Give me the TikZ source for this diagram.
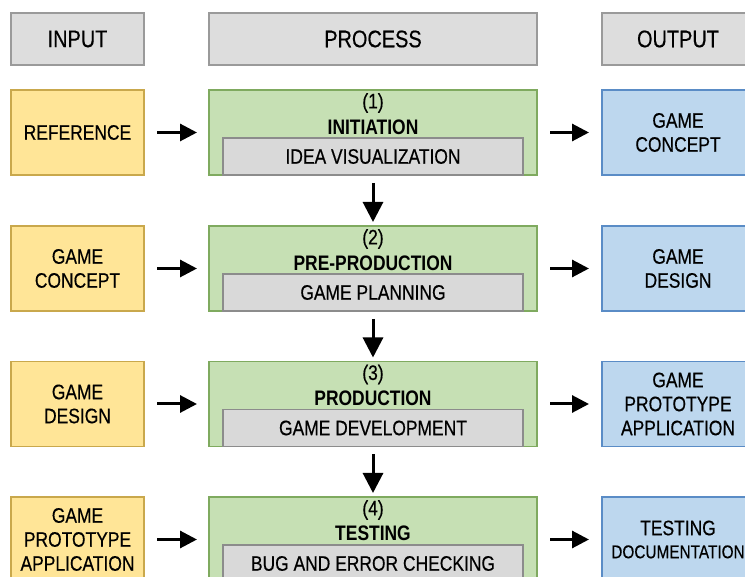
\documentclass[tikz,border=0pt]{standalone}
\usepackage{fontspec}
\setmainfont{Liberation Sans}[FakeStretch=0.83, UprightFeatures={FakeBold=0.4}]
\usetikzlibrary{arrows.meta}
\definecolor{hdrfill}{HTML}{DDDDDD}
\definecolor{hdrdraw}{HTML}{9A9A9A}
\definecolor{infill}{HTML}{FFE597}
\definecolor{indraw}{HTML}{C9A84C}
\definecolor{prfill}{HTML}{C6E0B4}
\definecolor{prdraw}{HTML}{7FAA5F}
\definecolor{subfill}{HTML}{D9D9D9}
\definecolor{subdraw}{HTML}{8C8C8C}
\definecolor{outfill}{HTML}{BDD7EE}
\definecolor{outdraw}{HTML}{5A8CC6}
\begin{document}
\begin{tikzpicture}[x=1pt,y=-1pt,
  box/.style={draw, line width=1.5pt, inner sep=0pt, outer sep=0pt, align=center,
    font=\fontsize{21}{24}\selectfont},
  hdr/.style={box, fill=hdrfill, draw=hdrdraw, minimum height=52pt,
    font=\fontsize{24}{26}\selectfont},
  inbox/.style={box, fill=infill, draw=indraw, minimum width=133pt, minimum height=85pt},
  prbox/.style={box, fill=prfill, draw=prdraw, minimum width=328pt, minimum height=85pt},
  subbox/.style={box, fill=subfill, draw=subdraw, minimum width=300pt, minimum height=37pt},
  outbox/.style={box, fill=outfill, draw=outdraw, minimum width=152pt, minimum height=85pt},
  lbl/.style={inner sep=0pt, font=\fontsize{21}{24}\selectfont},
  harr/.style={line width=3pt, -{Triangle[length=17pt,width=17pt]}},
  varr/.style={line width=3pt, -{Triangle[length=20pt,width=20pt]}}
]
\useasboundingbox (0,0) rectangle (745,577);
\clip (0,0) rectangle (745,577);
\fill[white] (0,0) rectangle (745,577);

% headers
\node[hdr, minimum width=133pt] (hin)  at (77.5,39) {INPUT};
\node[hdr, minimum width=328pt] (hpr)  at (373,39) {PROCESS};
\node[hdr, minimum width=152pt] (hout) at (678,39) {OUTPUT};

% row 1
\node[inbox]  (i1) at (77.5,132.5) {REFERENCE};
\node[prbox]  (p1) at (373,132.5) {};
\node[subbox] (s1) at (373,156.5) {IDEA VISUALIZATION};
\node[lbl]    (n1) at (373,103) {(1)};
\node[lbl]    (t1) at (373,127) {\bfseries INITIATION};
\node[outbox] (o1) at (678,132.5) {GAME\\CONCEPT};

% row 2
\node[inbox]  (i2) at (77.5,268.5) {GAME\\CONCEPT};
\node[prbox]  (p2) at (373,268.5) {};
\node[subbox] (s2) at (373,292.5) {GAME PLANNING};
\node[lbl]    (n2) at (373,239) {(2)};
\node[lbl]    (t2) at (373,263) {\bfseries PRE-PRODUCTION};
\node[outbox] (o2) at (678,268.5) {GAME\\DESIGN};

% row 3
\node[inbox]  (i3) at (77.5,404) {GAME\\DESIGN};
\node[prbox]  (p3) at (373,404) {};
\node[subbox] (s3) at (373,428) {GAME DEVELOPMENT};
\node[lbl]    (n3) at (373,374.5) {(3)};
\node[lbl]    (t3) at (373,398) {\bfseries PRODUCTION};
\node[outbox] (o3) at (678,404) {GAME\\PROTOTYPE\\APPLICATION};

% row 4
\node[inbox]  (i4) at (77.5,539.5) {GAME\\PROTOTYPE\\APPLICATION};
\node[prbox]  (p4) at (373,539.5) {};
\node[subbox] (s4) at (373,563.5) {BUG AND ERROR CHECKING};
\node[lbl]    (n4) at (373,510) {(4)};
\node[lbl]    (t4) at (373,533) {\bfseries TESTING};
\node[outbox] (o4) at (678,539.5) {TESTING\\[-1pt]{\fontsize{18.5}{22}\selectfont DOCUMENTATION}};

% horizontal arrows
\foreach \r in {1,2,3,4}{
  \draw[harr, shorten <=13pt, shorten >=12pt] (i\r.east) -- (p\r.west);
  \draw[harr, shorten <=13pt, shorten >=13pt] (p\r.east) -- (o\r.west);
}
% vertical arrows
\draw[varr, shorten <=8pt, shorten >=4pt] (p1.south) -- (p2.north);
\draw[varr, shorten <=8pt, shorten >=4pt] (p2.south) -- (p3.north);
\draw[varr, shorten <=8pt, shorten >=4pt] (p3.south) -- (p4.north);
\end{tikzpicture}
\end{document}
